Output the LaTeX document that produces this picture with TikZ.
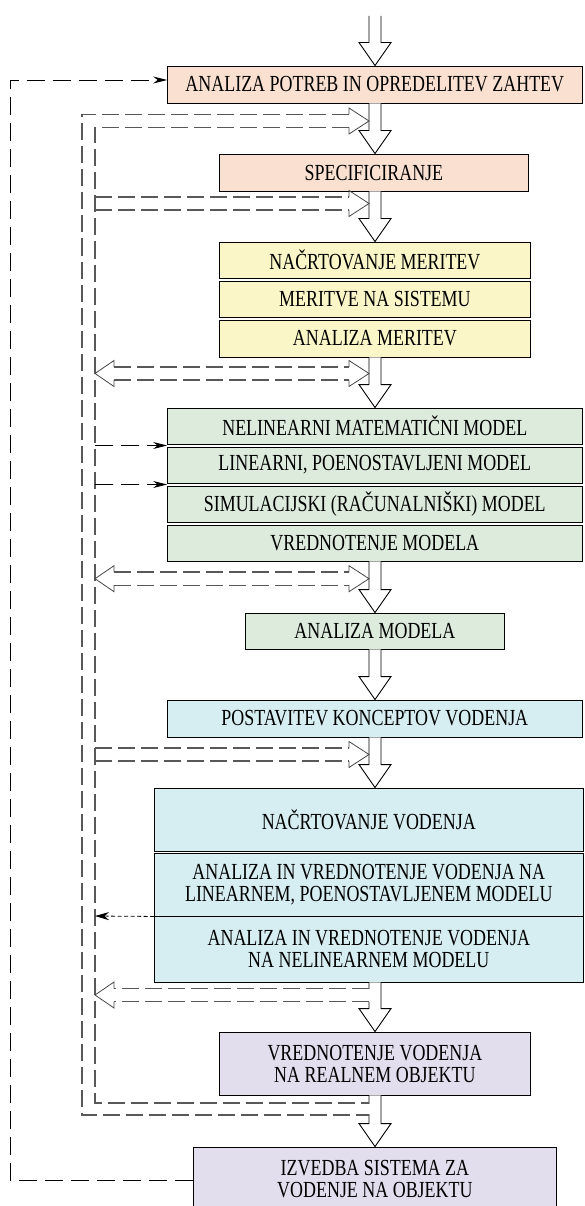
\documentclass[tikz,border=0pt]{standalone}
\usepackage{fontspec}
\setmainfont[FakeStretch=0.78]{Liberation Serif}
\usetikzlibrary{calc,arrows.meta}
\definecolor{peach}{HTML}{FAE0D0}
\definecolor{yel}{HTML}{FAF6C8}
\definecolor{grn}{HTML}{DCEBDC}
\definecolor{blu}{HTML}{D6EEF2}
\definecolor{pur}{HTML}{E2DEEE}
\definecolor{gline}{HTML}{585858}
\newcommand\mainarrow[2]{%
  \draw[hol] ($(ax|-#1)+(-6,0)$) -- ($(ax|-#2.north)+(-6,23)$) -- ++(-10,0) -- (ax|-#2.north)
    -- ($(ax|-#2.north)+(16,23)$) -- ++(-10,0) -- ($(ax|-#1)+(6,0)$);}
\newcommand\rhead[1]{%
  \draw[gh] (349,#1+6.5) -- (349,#1+13) -- (369,#1) -- (349,#1-13) -- (349,#1-6.5);}
\newcommand\lhead[1]{%
  \draw[gh] (114,#1+6.5) -- (114,#1+13) -- (95,#1) -- (114,#1-13) -- (114,#1-6.5);}
\begin{document}
\begin{tikzpicture}[x=1pt,y=1pt,
  box/.style={draw=black, line width=0.9pt, inner sep=0pt, align=center,
    font=\fontsize{23}{22}\selectfont},
  hol/.style={draw=black, fill=white, line width=0.9pt, line join=miter},
  gd/.style={draw=gline, line width=1.1pt, dash pattern=on 17pt off 6pt},
  gh/.style={draw=gline!80!black, line width=0.8pt, line join=miter},
  fb/.style={draw=black, line width=0.9pt, dash pattern=on 18pt off 8pt,
    -{Stealth[length=14pt,width=7pt]}},
  fdot/.style={draw=black, line width=0.8pt, dash pattern=on 4pt off 2.5pt,
    -{Stealth[length=14pt,width=8pt]}}]
\useasboundingbox (0,0) rectangle (584,-1206);
\coordinate (ax) at (375,0);
\coordinate (in) at (375,-16);
% boxes
\node[box, fill=peach, minimum width=414.4pt, minimum height=37pt] (b1) at (374.8,-84.5) {ANALIZA POTREB IN OPREDELITEV ZAHTEV};
\node[box, fill=peach, minimum width=308.3pt, minimum height=37pt] (b2) at (373.9,-172.5) {SPECIFICIRANJE};
\node[box, fill=yel, minimum width=310.3pt, minimum height=36pt] (b3) at (374.9,-260) {NAČRTOVANJE MERITEV};
\node[box, fill=yel, minimum width=310.3pt, minimum height=36pt] (b4) at (374.9,-299) {MERITVE NA SISTEMU};
\node[box, fill=yel, minimum width=310.3pt, minimum height=37pt] (b5) at (374.9,-338.5) {ANALIZA MERITEV};
\node[box, fill=grn, minimum width=414.4pt, minimum height=36pt] (b6) at (374.8,-426) {NELINEARNI MATEMATIČNI MODEL};
\node[box, fill=grn, minimum width=414.4pt, minimum height=36pt] (b7) at (374.8,-465) {LINEARNI, POENOSTAVLJENI MODEL};
\node[box, fill=grn, minimum width=414.4pt, minimum height=36pt] (b8) at (374.8,-504) {SIMULACIJSKI (RAČUNALNIŠKI) MODEL};
\node[box, fill=grn, minimum width=414.4pt, minimum height=36pt] (b9) at (374.8,-543) {VREDNOTENJE MODELA};
\node[box, fill=grn, minimum width=258.2pt, minimum height=36pt] (b10) at (374.9,-631) {ANALIZA MODELA};
\node[box, fill=blu, minimum width=414.4pt, minimum height=37pt] (b11) at (374.8,-718.5) {POSTAVITEV KONCEPTOV VODENJA};
\node[box, fill=blu, minimum width=428.4pt, minimum height=63pt] (b12) at (368.8,-819.5) {NAČRTOVANJE VODENJA};
\node[box, fill=blu, minimum width=428.4pt, minimum height=63pt] (b13) at (368.8,-884.5) {ANALIZA IN VREDNOTENJE VODENJA NA\\LINEARNEM, POENOSTAVLJENEM MODELU};
\node[box, fill=blu, minimum width=428.4pt, minimum height=66pt] (b14) at (368.8,-949) {ANALIZA IN VREDNOTENJE VODENJA\\NA NELINEARNEM MODELU};
\node[box, fill=pur, minimum width=310.3pt, minimum height=63pt] (b15) at (374.9,-1063.5) {VREDNOTENJE VODENJA\\NA REALNEM OBJEKTU};
\node[box, fill=pur, minimum width=362.3pt, minimum height=64pt] (b16) at (374.9,-1179) {IZVEDBA SISTEMA ZA\\VODENJE NA OBJEKTU};
% main hollow arrows
\mainarrow{in}{b1}
\mainarrow{b1.south}{b2}
\mainarrow{b2.south}{b3}
\mainarrow{b5.south}{b6}
\mainarrow{b9.south}{b10}
\mainarrow{b10.south}{b11}
\mainarrow{b11.south}{b12}
\mainarrow{b14.south}{b15}
\mainarrow{b15.south}{b16}
% openings in shafts
\draw[white, line width=1.6pt] (369,-988.5) -- (369,-1001.5);
\draw[white, line width=1.6pt] (369,-1103.6) -- (369,-1114.4);
% gray dashed band
\draw[gd] (349,-114.5) -- (82,-114.5) -- (82,-1115) -- (369,-1115);
\draw[gd] (349,-127.5) -- (95,-127.5) -- (95,-1103) -- (369,-1103);
\rhead{-121}
% D2
\draw[gd] (95,-197) -- (349,-197);
\draw[gd] (95,-210) -- (349,-210);
\rhead{-203.5}
% D3
\draw[gd] (114,-367) -- (349,-367);
\draw[gd] (114,-380) -- (349,-380);
\rhead{-373.5}\lhead{-373.5}
% D4
\draw[gd] (114,-572) -- (349,-572);
\draw[gd] (114,-585.5) -- (349,-585.5);
\rhead{-578.7}\lhead{-578.7}
% D5
\draw[gd] (95,-748) -- (349,-748);
\draw[gd] (95,-761) -- (349,-761);
\rhead{-754.5}
% D6
\draw[gd] (369,-988.5) -- (114,-988.5);
\draw[gd] (369,-1001.5) -- (114,-1001.5);
\lhead{-995}
% black arrows
\draw[fb] (95,-445.5) -- ($(b6.south west)!0.5!(b7.north west)$);
\draw[fb] (95,-484.5) -- ($(b7.south west)!0.5!(b8.north west)$);
\draw[fdot] (b13.south west) -- (95,-916);
\coordinate (fbA) at (10,-1180);
\coordinate (fbB) at (10,-80);
\draw[fb] (b16.west |- fbA) -- (fbA) -- (fbB) -- (b1.west |- fbB);
\end{tikzpicture}
\end{document}
